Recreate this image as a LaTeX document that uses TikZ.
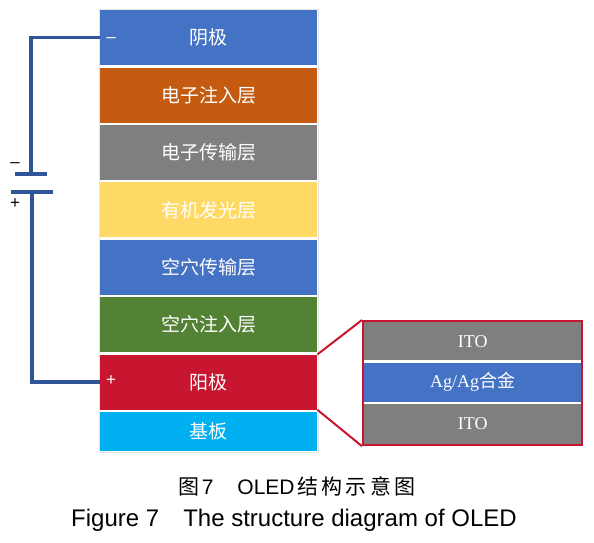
\documentclass[tikz,border=0pt]{standalone}
\usepackage{fontspec}
\setmainfont{Liberation Serif}
\setsansfont{Liberation Sans}
\newfontfamily\cjk{Noto Sans CJK SC}
\newfontfamily\cjkcap{Noto Sans CJK SC}[LetterSpace=15]
\usetikzlibrary{positioning,calc,fit}
\definecolor{cBlue}{RGB}{68,114,196}
\definecolor{cOrange}{RGB}{197,90,17}
\definecolor{cGrey}{RGB}{127,127,127}
\definecolor{cYellow}{RGB}{255,217,102}
\definecolor{cGreen}{RGB}{84,130,53}
\definecolor{cRed}{RGB}{200,22,48}
\definecolor{cCyan}{RGB}{0,176,240}
\definecolor{cWire}{RGB}{47,85,151}
\tikzset{
  lay/.style={minimum width=217pt, minimum height=55pt, inner sep=0pt,
              text=white, font=\cjk\fontsize{19}{19}\selectfont},
  sublay/.style={minimum width=217pt, inner sep=0pt,
              text=white, font=\fontsize{18}{18}\selectfont},
  plate/.style={fill=cWire, inner sep=0pt, minimum height=4pt},
  wire/.style={draw=cWire, line width=3.5pt},
  zoomln/.style={draw=cRed, line width=2pt},
  sgn/.style={font=\sffamily\fontsize{17}{17}\selectfont, inner sep=0pt},
}

\begin{document}
\begin{tikzpicture}[x=1pt, y=-1pt, node distance=2pt]
\useasboundingbox (0,0) rectangle (594,542);

% layer stack
\node[lay, fill=cBlue, anchor=north west] (cath) at (100,10) {阴极};
\node[lay, fill=cOrange, below=of cath] (eil) {电子注入层};
\node[lay, fill=cGrey, below=of eil] (etl) {电子传输层};
\node[lay, fill=cYellow, below=of etl] (eml) {有机发光层};
\node[lay, fill=cBlue, below=of eml] (htl) {空穴传输层};
\node[lay, fill=cGreen, below=of htl] (hil) {空穴注入层};
\node[lay, fill=cRed, below=of hil] (ano) {阳极};
\node[lay, fill=cCyan, minimum height=39pt, below=of ano] (subs) {基板};
\node[fit=(cath)(subs), draw=gray!20, line width=0.6pt, inner sep=1pt] (stack) {};

% anode detail
\node[sublay, fill=cGrey, minimum height=38pt, anchor=north west] (ito1) at (364,322) {ITO};
\node[sublay, fill=cBlue, minimum height=39pt, below=of ito1] (agl) {Ag/Ag{\cjk 合金}};
\node[sublay, fill=cGrey, minimum height=40pt, below=of agl] (ito2) {ITO};
\node[fit=(ito1)(ito2), draw=cRed, line width=2pt, inner sep=1pt] (zbox) {};
\draw[zoomln] (ano.north east) -- (zbox.north west);
\draw[zoomln] (ano.south east) -- (zbox.south west);

% circuit
\node[plate, minimum width=32pt] (pneg) at (31,174) {};
\node[plate, minimum width=42pt] (ppos) at (32,192) {};
\draw[wire] (cath.west) -| (pneg.north);
\draw[wire] (ano.west) -| (ppos.south);
\node[sgn] (mneg) at (15,165) {\textendash};
\node[sgn] (mpos) at (15,204) {+};
\node[sgn, text=white] (cneg) at (111,40) {\textendash};
\node[sgn, text=white] (apos) at (111,381) {+};

% caption
\node[font=\fontsize{21}{21}\selectfont] (cap1) at (297,486)
  {{\cjkcap 图}\hspace{2pt}{\sffamily 7}\hspace{24pt}{\sffamily OLED}\hspace{3pt}{\cjkcap 结构示意图}};
\node[font=\sffamily\fontsize{24}{24}\selectfont] (cap2) at (294,520) {Figure 7\quad The structure diagram of OLED};
\end{tikzpicture}
\end{document}
